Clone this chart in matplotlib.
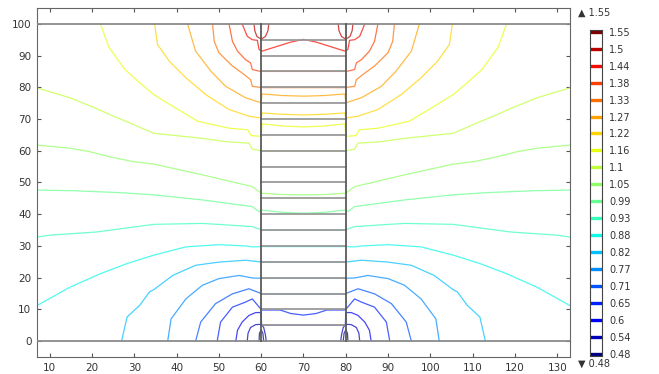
import matplotlib
matplotlib.use('Agg')
import matplotlib.pyplot as plt

# contour levels (legend, bottom -> top)
levels = [0.48, 0.54, 0.6, 0.65, 0.71, 0.77, 0.82, 0.88, 0.93, 0.99,
          1.05, 1.1, 1.16, 1.22, 1.27, 1.33, 1.38, 1.44, 1.5, 1.55]

# geometry: column walls and layer boundaries
wall_x = [60, 80]
layer_y = [5, 10, 15, 20, 25, 30, 35, 40, 45, 50, 55, 60, 65, 70, 75, 80, 85, 90, 95]
outer_y = [0, 100]

# contour lines, left half only (x <= 70); field is symmetric about x = 70
c150_x = [58.3, 58.5, 59.0, 60.0, 61.0, 61.6, 61.8]
c150_y = [100, 97.8, 96.0, 95.2, 96.0, 97.8, 100]
c144_x = [55.5, 56.7, 57.9, 59.1, 59.5, 60.2, 63.8, 66.9, 70]
c144_y = [100, 96.1, 95.0, 94.8, 91.9, 91.4, 92.9, 94.2, 95.1]
c138_x = [52.4, 53.2, 54.4, 56.3, 57.5, 57.9, 59.5, 60.2, 70]
c138_y = [100, 94.5, 91.4, 88.7, 87.7, 85.6, 85.1, 85.0, 85.0]
c133_x = [48.5, 48.9, 50.0, 53.2, 55.5, 57.5, 57.9, 60.2, 70]
c133_y = [100, 94.5, 90.9, 86.7, 84.5, 82.4, 80.3, 79.9, 79.9]
c127_x = [42.6, 43.8, 44.5, 48.1, 51.6, 56.3, 60.0, 60.2, 65, 70]
c127_y = [100, 94.5, 91.4, 85.1, 80.3, 76.7, 75.1, 77.9, 77.4, 77.2]
c122_x = [34.8, 35.5, 38.3, 42.2, 46.9, 52.4, 57.1, 60.0, 60.2, 65, 70]
c122_y = [100, 93.5, 88.2, 83.0, 77.7, 73.0, 70.9, 70.3, 71.9, 71.5, 71.3]
c116_x = [22.0, 24.0, 27.8, 31.3, 34.6, 39.1, 45.0, 52.4, 56.8, 57.6, 60.0, 60.2, 65, 70]
c116_y = [100, 92.6, 85.6, 81.4, 77.7, 74.0, 69.3, 67.1, 66.6, 64.8, 64.5, 68.5, 67.8, 67.5]
c110_x = [7, 14.8, 20.7, 24.2, 28.9, 34.6, 46.1, 52.0, 57.1, 57.9, 60.0, 70]
c110_y = [79.8, 76.7, 73.5, 71.4, 68.8, 65.5, 63.9, 62.8, 62.4, 60.5, 60.0, 60.0]
c105_x = [7, 14.8, 19.5, 24.2, 29.6, 34.6, 46.1, 57.9, 59.5, 60.2, 65, 70]
c105_y = [61.8, 60.8, 59.7, 58.1, 56.6, 55.8, 52.4, 48.7, 47.1, 46.6, 46.2, 46.1]
c099_x = [7, 15.5, 26.6, 34.6, 46.1, 57.9, 59.5, 60.2, 65, 70]
c099_y = [47.6, 47.4, 46.8, 46.1, 44.5, 42.4, 40.8, 41.3, 40.6, 40.3]
c093_x = [7, 10.1, 21.1, 34.6, 46.1, 57.9, 60.2, 70]
c093_y = [32.8, 33.4, 34.4, 36.8, 37.1, 36.1, 35.0, 35.0]
c088_x = [7, 14.8, 21.9, 28.2, 34.6, 42.2, 50.0, 56.3, 57.9, 60.2, 70]
c088_y = [11.2, 17.0, 21.2, 24.4, 27.1, 29.7, 30.4, 30.0, 29.7, 29.8, 29.8]
c082_x = [27.0, 28.3, 31.3, 33.6, 34.6, 39.1, 44.5, 50.0, 56.3, 60.2, 70]
c082_y = [0, 7.6, 11.3, 15.5, 16.2, 20.7, 23.9, 24.9, 25.5, 24.9, 24.9]
c077_x = [37.9, 38.7, 42.2, 46.1, 50.0, 54.8, 57.9, 60.2, 70]
c077_y = [0, 7.0, 13.3, 17.6, 19.7, 20.7, 19.9, 19.8, 19.8]
c071_x = [44.5, 45.7, 49.2, 53.2, 57.1, 60.2, 70]
c071_y = [0, 6.0, 11.8, 14.9, 16.5, 14.9, 14.9]
c065_x = [49.6, 50.4, 53.2, 56.3, 57.9, 60.0, 60.3, 64.5, 67, 70]
c065_y = [0, 6.0, 10.7, 12.3, 13.3, 10.0, 9.8, 9.8, 8.7, 8.2]
c060_x = [54.0, 54.4, 55.5, 57.1, 58.7, 60.0, 60.1, 70]
c060_y = [0, 3.4, 6.0, 8.1, 9.0, 9.0, 5.0, 5.0]
c054_x = [56.7, 56.9, 57.5, 58.7, 60.0, 60.6, 61.0, 61.2]
c054_y = [0, 2.5, 4.3, 5.2, 5.3, 4.3, 2.0, 0]
c048_x = [59.5, 59.6, 60.0, 60.4, 60.6]
c048_y = [0, 2.5, 3.5, 2.5, 0]

half_lines = [
    (1.5, c150_x, c150_y), (1.44, c144_x, c144_y), (1.38, c138_x, c138_y),
    (1.33, c133_x, c133_y), (1.27, c127_x, c127_y), (1.22, c122_x, c122_y),
    (1.16, c116_x, c116_y), (1.1, c110_x, c110_y), (1.05, c105_x, c105_y),
    (0.99, c099_x, c099_y), (0.93, c093_x, c093_y), (0.88, c088_x, c088_y),
    (0.82, c082_x, c082_y), (0.77, c077_x, c077_y), (0.71, c071_x, c071_y),
    (0.65, c065_x, c065_y), (0.6, c060_x, c060_y), (0.54, c054_x, c054_y),
    (0.48, c048_x, c048_y),
]

cmap = plt.get_cmap('jet')
def level_color(v):
    return cmap(levels.index(v) / (len(levels) - 1))

fig = plt.figure(figsize=(6.59, 3.74), dpi=100)
ax = fig.add_axes([0.0561, 0.0455, 0.8088, 0.9332])

for v, xs, ys in half_lines:
    mx = [140 - x for x in reversed(xs)]
    my = list(reversed(ys))
    c = level_color(v)
    if xs[-1] == 70:
        ax.plot(xs + mx[1:], ys + my[1:], color=c, lw=0.9, alpha=0.72, zorder=2)
    else:
        ax.plot(xs, ys, color=c, lw=0.9, alpha=0.72, zorder=2)
        ax.plot(mx, my, color=c, lw=0.9, alpha=0.72, zorder=2)

# geometry lines
for y in outer_y:
    ax.axhline(y, color='#8a8a8a', lw=1.3, zorder=3)
for y in layer_y:
    ax.plot(wall_x, [y, y], color='#9a9a9a', lw=1.3, zorder=3)
for x in wall_x:
    ax.plot([x, x], outer_y, color='#5a5a5a', lw=1.3, zorder=4)

ax.set_xlim(7, 133)
ax.set_ylim(-5, 105)
ax.set_xticks(range(10, 131, 10))
ax.set_yticks(range(0, 101, 10))
ax.tick_params(direction='in', length=3, width=0.8, color='#555555',
               top=True, right=True, labelsize=7.5, labelcolor='#333333', pad=4)
for s in ax.spines.values():
    s.set_color('#666666')
    s.set_linewidth(0.8)

# legend bar
lax = fig.add_axes([590 / 659, 18 / 374, 12 / 659, 326 / 374])
for i, v in enumerate(levels):
    lax.plot([0, 1], [i, i], color=level_color(v), lw=2.4, solid_capstyle='butt')
lax.set_xlim(0, 1)
lax.set_ylim(-0.12, 19.1)
lax.set_xticks([])
lax.set_yticks(range(len(levels)))
lax.set_yticklabels([f'{v:g}' for v in levels])
lax.yaxis.tick_right()
lax.tick_params(axis='y', length=0, pad=5, labelsize=7, labelcolor='#333333')
for s in lax.spines.values():
    s.set_color('#444444')
    s.set_linewidth(0.8)

fig.text(578 / 659, 1 - 13 / 374, '\u25b2 1.55', fontsize=7, color='#333333', va='center')
fig.text(578 / 659, 1 - 364 / 374, '\u25bc 0.48', fontsize=7, color='#333333', va='center')

fig.savefig('out.png', dpi=100)
